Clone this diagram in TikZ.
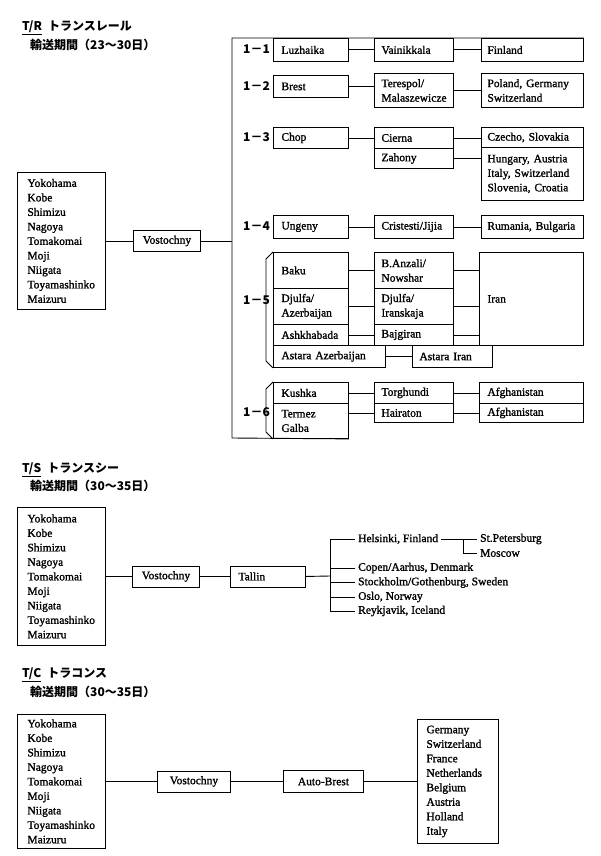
\documentclass[tikz,border=0pt]{standalone}
\usepackage{fontspec}
\setmainfont{Liberation Serif}[RawFeature={embolden=1.3}]
\newfontfamily\jpfont{Noto Sans CJK JP}
\usepackage{tikz}
\usetikzlibrary{calc}

\tikzset{
	ln/.style={line width=0.9pt},
	box/.style={draw, line width=0.9pt, anchor=north west, inner ysep=0pt, align=left, font=\fontsize{11.5}{14.5}\selectfont},
	c1/.style={box, inner xsep=8pt, text width=59pt},
	c2/.style={box, inner xsep=7pt, text width=65pt},
	c3/.style={box, inner xsep=6pt, text width=90pt},
	c4/.style={box, inner xsep=8pt, text width=88pt},
	lst/.style={box, inner xsep=10pt, text width=68pt},
	mid/.style={box, align=center, inner xsep=0pt},
	dst/.style={anchor=west, inner xsep=3pt, inner ysep=0pt, font=\fontsize{11.5}{14.5}\selectfont},
	lbl/.style={inner sep=0pt, font=\jpfont\bfseries\fontsize{12}{14}\selectfont},
	ttl/.style={anchor=west, inner sep=0pt, font=\jpfont\bfseries\fontsize{12}{15}\selectfont}
}

\newcommand{\ports}{Yokohama\\Kobe\\Shimizu\\Nagoya\\Tomakomai\\Moji\\Niigata\\Toyamashinko\\Maizuru}

\begin{document}
\begin{tikzpicture}[x=1pt,y=-1pt]
		\useasboundingbox (0,0) rectangle (600,856);
		
		%T/R
		\node[ttl] (trT) at (22,28) {\underline{T/R}\hspace{6pt}トランスレール};
		\node[ttl] (trD) at (30,45) {輸送期間（23〜30日）};
		\node[lst, minimum height=137pt] (orgR) at (17,172) {\ports};
		\node[mid, minimum width=67pt, minimum height=21pt] (vosR) at (133,230) {Vostochny};
		\coordinate (frT) at (232,38);
		\coordinate (frB) at (232,438);
		
		%1-1
		\node[lbl] (n1) at (256.5,49.5) {1－1};
		\node[c1, minimum height=23pt] (luz) at (273,38) {Luzhaika};
		\node[c2, minimum height=23pt] (vai) at (374,38) {Vainikkala};
		\node[c3, minimum height=23pt] (fin) at (481,38) {Finland};
		%1-2
		\node[lbl] (n2) at (256.5,86) {1－2};
		\node[c1, minimum height=22pt] (bre) at (273,75) {Brest};
		\node[c2, minimum height=34pt] (ter) at (374,73) {Terespol/\\Malaszewicze};
		\node[c3, minimum height=34pt] (pol) at (481,73) {Poland, Germany\\Switzerland};
		%1-3
		\node[lbl] (n3) at (256.5,137.5) {1－3};
		\node[c1, minimum height=21pt] (chop) at (273,127) {Chop};
		\node[c2, minimum height=21pt] (cie) at (374,127) {Cierna};
		\node[c2, minimum height=20pt] (zah) at (374,148) {Zahony};
		\node[c3, minimum height=20pt] (cze) at (481,127) {Czecho, Slovakia};
		\node[c3, minimum height=53pt] (hun) at (481,147) {Hungary, Austria\\Italy, Switzerland\\Slovenia, Croatia};
		%1-4
		\node[lbl] (n4) at (256.5,226.5) {1－4};
		\node[c1, minimum height=23pt] (ung) at (273,215) {Ungeny};
		\node[c2, minimum height=23pt] (cri) at (374,215) {Cristesti/Jijia};
		\node[c3, minimum height=23pt] (rum) at (481,215) {Rumania, Bulgaria};
		%1-5
		\node[lbl] (n5) at (256.5,300) {1－5};
		\node[c1, minimum height=36pt] (baku) at (273,252) {Baku};
		\node[c1, minimum height=36pt] (dja) at (273,288) {Djulfa/\\Azerbaijan};
		\node[c1, minimum height=21pt] (ash) at (273,324) {Ashkhabada};
		\node[c1, minimum height=22pt, text width=96pt] (asa) at (273,345) {Astara Azerbaijan};
		\node[c2, minimum height=36pt] (ban) at (374,252) {B.Anzali/\\Nowshar};
		\node[c2, minimum height=36pt] (dji) at (374,288) {Djulfa/\\Iranskaja};
		\node[c2, minimum height=21pt] (baj) at (374,324) {Bajgiran};
		\node[c2, minimum height=22pt, text width=66pt] (asi) at (412,345) {Astara Iran};
		\node[c4, minimum height=93pt] (iran) at (479,252) {Iran};
		%1-6
		\node[lbl] (n6) at (256.5,412) {1－6};
		\node[c1, minimum height=21pt] (kus) at (273,382) {Kushka};
		\node[c1, minimum height=35pt] (tgb) at (273,403) {Termez\\Galba};
		\node[c2, minimum height=21pt] (tor) at (374,382) {Torghundi};
		\node[c2, minimum height=19pt] (hai) at (374,403) {Hairaton};
		\node[c4, minimum height=21pt] (af1) at (479,382) {Afghanistan};
		\node[c4, minimum height=19pt] (af2) at (479,403) {Afghanistan};
		
		%frame and links
		\draw[ln] (orgR.east) -- (vosR.west);
		\draw[ln] (vosR.east) -- (vosR.east -| frT);
		\draw[ln] (fin.north east) -- (frT) -- (frB) -- (tgb.south east);
		\foreach \a/\b in {luz/vai,vai/fin,bre/ter,ter/pol,chop/cie,cie/cze,zah/hun,ung/cri,cri/rum,baku/ban,dja/dji,ash/baj,asa/asi,ban/iran,dji/iran,baj/iran,kus/tor,tor/af1,hai/af2}
			\draw[ln] (\a.east) -- (\a.east -| \b.west);
		\draw[ln] (hai.west -| tgb.east) -- (hai.west);
		%brackets
		\draw[ln] (baku.north west) -- +(-7,7) -- ($(asa.south west)+(-7,-7)$) -- (asa.south west);
		\draw[ln] (kus.north west) -- +(-7,7) -- ($(tgb.south west)+(-7,-7)$) -- (tgb.south west);
		
		%T/S
		\node[ttl] (tsT) at (22,470) {\underline{T/S}\hspace{6pt}トランスシー};
		\node[ttl] (tsD) at (30,486) {輸送期間（30〜35日）};
		\node[lst, minimum height=138pt] (orgS) at (17,507) {\ports};
		\node[mid, minimum width=67pt, minimum height=21pt] (vosS) at (132,565.5) {Vostochny};
		\node[c1, minimum height=21pt] (tal) at (230,565.5) {Tallin};
		\coordinate (fk) at (330,576);
		\coordinate (hb) at (463,539);
		\node[dst] (hel) at (355,539) {Helsinki, Finland};
		\node[dst] (cop) at (355,568) {Copen/Aarhus, Denmark};
		\node[dst] (sto) at (355,582.5) {Stockholm/Gothenburg, Sweden};
		\node[dst] (osl) at (355,597) {Oslo, Norway};
		\node[dst] (rey) at (355,611) {Reykjavik, Iceland};
		\node[dst] (stp) at (477,539) {St.Petersburg};
		\node[dst] (mos) at (477,553) {Moscow};
		\draw[ln] (orgS.east) -- (vosS.west);
		\draw[ln] (vosS.east) -- (tal.west);
		\draw[ln] (tal.east) -- (fk);
		\draw[ln] (fk |- hel.west) -- (fk |- rey.west);
		\foreach \d in {hel,cop,sto,osl,rey}
			\draw[ln] (fk |- \d.west) -- (\d.west);
		\draw[ln] (hel.east) -- (stp.west);
		\draw[ln] (hb) |- (mos.west);
		
		%T/C
		\node[ttl] (tcT) at (22,675) {\underline{T/C}\hspace{6pt}トラコンス};
		\node[ttl] (tcD) at (30,692) {輸送期間（30〜35日）};
		\node[lst, minimum height=134pt] (orgC) at (17,714) {\ports};
		\node[mid, minimum width=73pt, minimum height=21pt] (vosC) at (157,770.5) {Vostochny};
		\node[mid, minimum width=80pt, minimum height=22pt] (aub) at (283,770) {Auto-Brest};
		\node[lst, inner xsep=9pt, text width=63pt, minimum height=124pt] (cty) at (417,719) {Germany\\Switzerland\\France\\Netherlands\\Belgium\\Austria\\Holland\\Italy};
		\draw[ln] (orgC.east) -- (vosC.west);
		\draw[ln] (vosC.east) -- (aub.west);
		\draw[ln] (aub.east) -- (cty.west);
		
\end{tikzpicture}
\end{document}
